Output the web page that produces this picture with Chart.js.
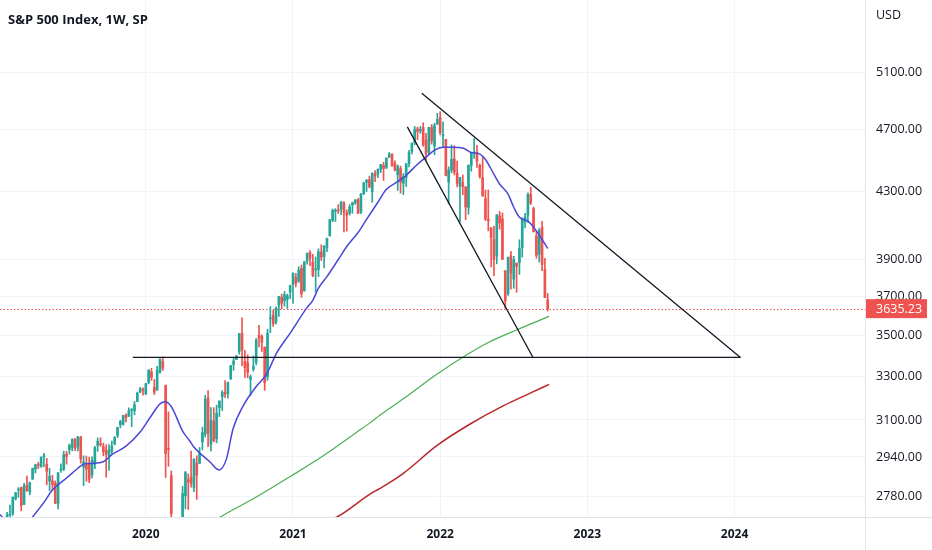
<!DOCTYPE html>
<html><head><meta charset="utf-8">
<script src="https://cdn.jsdelivr.net/npm/chart.js@4.4.0/dist/chart.umd.min.js"></script>
<style>html,body{margin:0;padding:0;background:#fff;}canvas{display:block;}</style>
</head><body>
<canvas id="c" width="932" height="550"></canvas>
<script>
// week index of the first candle (0 = first weekly bar of 2020)
const firstWeek = -52;
const opens = [
2535,2580,2657,2644,2706,2712,2770,2804,2814,2747,2823,2797,2848,2889,2908,2898,2941,2909,2840,2841,2831,2751,2886,2889,2952,2971,2980,3017,2982,3024,2898,2907,2913,2866,2909,2989,2996,2983,2968,2944,2965,2996,3032,3079,3081,3123,3117,3143,3141,3183,3226,3240,
3218,3271,3321,3248,3235,3319,3370,3257,2974,2863,2509,2291,2514,2579,2782,2846,2855,2815,2915,2913,3004,3038,3199,2993,3095,3018,3155,3205,3225,3219,3289,3356,3380,3419,3509,3371,3364,3285,3334,3367,3500,3494,3441,3297,3583,3600,3566,3653,3695,3676,3684,3723,
3764,3803,3782,3851,3731,3892,3939,3886,3842,3845,3943,3916,3969,4034,4125,4179,4185,4192,4228,4170,4168,4216,4230,4249,4174,4285,4356,4372,4297,4409,4407,4437,4462,4450,4514,4536,4474,4403,4442,4349,4385,4473,4553,4610,4702,4689,4712,4628,4548,4711,4588,4733,
4779,4655,4632,4357,4431,4505,4413,4332,4354,4327,4202,4462,4541,4547,4463,4385,4255,4130,4081,4013,3920,4151,4134,3838,3715,3920,3792,3880,3883,3965,4113,4155,4282,4195,4034,3930,4084,3845,3682];
const highs = [
2597,2675,2681,2716,2744,2776,2795,2814,2816,2831,2861,2836,2893,2910,2918,2940,2955,2934,2892,2864,2841,2876,2911,2964,2964,2995,3018,3018,3028,3029,2945,2944,2939,2941,2985,3021,3022,2999,2992,2993,3008,3027,3067,3098,3121,3127,3154,3151,3183,3226,3248,3246,
3267,3330,3338,3285,3347,3385,3393,3259,3136,2882,2562,2637,2641,2819,2880,2869,2965,2933,2945,2980,3068,3211,3233,3155,3155,3166,3186,3233,3280,3273,3352,3387,3400,3509,3588,3425,3402,3306,3397,3483,3550,3502,3441,3530,3646,3628,3645,3699,3712,3726,3712,3760,
3827,3823,3860,3870,3889,3937,3950,3929,3914,3960,3983,3978,4021,4129,4192,4195,4219,4238,4237,4187,4219,4234,4250,4257,4287,4356,4372,4394,4416,4430,4441,4468,4482,4511,4546,4536,4492,4466,4458,4411,4475,4560,4608,4718,4714,4718,4743,4672,4713,4731,4740,4808,
4819,4749,4632,4453,4595,4590,4490,4386,4402,4328,4466,4546,4637,4593,4471,4513,4308,4308,4082,4091,4159,4178,4169,3838,3913,3946,3918,3880,4012,4140,4167,4290,4325,4204,4062,4077,4119,3906,3715];
const lows = [
2524,2570,2613,2631,2681,2704,2764,2775,2722,2746,2800,2785,2848,2873,2891,2898,2900,2825,2801,2805,2750,2729,2876,2883,2910,2952,2966,2967,2966,2914,2822,2840,2834,2853,2891,2964,2985,2945,2856,2884,2953,2991,3023,3065,3077,3091,3115,3070,3123,3183,3223,3212,
3214,3264,3281,3214,3235,3315,3328,2855,2901,2478,2280,2191,2447,2574,2730,2727,2816,2798,2767,2913,2970,3025,2984,2966,3004,3000,3115,3142,3200,3198,3284,3328,3380,3406,3350,3294,3293,3210,3324,3354,3441,3420,3234,3280,3512,3544,3556,3595,3634,3648,3636,3688,
3663,3750,3774,3694,3726,3874,3866,3805,3723,3806,3894,3853,3944,4034,4117,4118,4165,4158,4057,4062,4156,4167,4220,4164,4164,4279,4299,4321,4233,4360,4384,4417,4367,4441,4514,4457,4427,4306,4289,4279,4329,4453,4537,4596,4630,4672,4586,4495,4532,4600,4531,4733,
4662,4582,4395,4223,4415,4402,4327,4115,4279,4129,4161,4425,4507,4450,4381,4268,4124,4063,3859,3811,3876,4073,3900,3637,3705,3738,3743,3721,3818,3913,4080,4112,4219,4057,3907,3886,3838,3694,3623];
const closes = [
2596,2671,2665,2707,2708,2776,2793,2804,2743,2822,2801,2834,2893,2907,2905,2940,2946,2881,2860,2826,2752,2873,2887,2950,2942,2990,3014,2977,3026,2932,2919,2889,2847,2926,2979,3007,2992,2962,2952,2970,2986,3023,3067,3093,3120,3110,3141,3146,3169,3221,3240,3235,
3265,3330,3295,3226,3328,3380,3338,2954,2972,2711,2305,2541,2489,2790,2875,2837,2831,2930,2864,2955,3044,3194,3041,3098,3009,3130,3185,3225,3216,3271,3351,3373,3397,3508,3427,3341,3319,3298,3348,3477,3484,3465,3270,3509,3585,3558,3638,3699,3663,3709,3703,3756,
3825,3768,3841,3714,3887,3935,3907,3811,3842,3943,3913,3975,4020,4129,4185,4180,4181,4233,4174,4156,4204,4230,4247,4166,4281,4352,4370,4327,4412,4395,4437,4468,4442,4509,4535,4459,4433,4455,4357,4391,4471,4545,4605,4698,4683,4698,4595,4538,4712,4621,4726,4766,
4677,4663,4398,4432,4501,4419,4349,4385,4329,4204,4463,4543,4546,4488,4393,4272,4132,4123,4024,3901,4158,4109,3901,3675,3912,3825,3899,3863,3962,4130,4145,4280,4228,4058,3924,4067,3873,3693,3635.23];

// moving averages (week index, value)
const blueWeeks  = [-52,-50,-47,-44,-41,-39,-36,-33,-28,-24,-22,-19,-15,-12,-7,-2,2,5,7,9,10,13,15.5,17,22.6,25.9,28.5,30.8,34.4,39,42.6,46.2,51,56.8,59,61,64,68,71,75,78,82,85,89,92,96,99,102,105,108,112,115,118,120,123,125,128,130,132,135,137,140,142];
const blueValues = [2712,2690,2662,2660,2685,2712,2755,2804,2853,2893,2910,2913,2920,2950,2986,3047,3120,3172,3182,3160,3136,3051,3009,2982,2920,2886,2932,3060,3163,3252,3309,3411,3510,3638,3679,3743,3806,3900,3973,4054,4131,4233,4312,4360,4400,4470,4515,4561,4580,4580,4575,4545,4535,4500,4406,4345,4282,4203,4143,4120,4085,4014,3962];
const greenWeeks  = [20,26.8,39.2,50.9,62.7,74.5,79.2,82.8,91,102.8,113.4,120.5,131.1,142.5];
const greenValues = [2655,2701,2777,2858,2945,3046,3087,3122,3195,3309,3403,3460,3527,3595];
const redWeeks  = [60,68,79.2,82.8,91,102.8,114.6,126.4,135.8,142.5];
const redValues = [2665,2701,2788,2811,2872,2988,3082,3164,3221,3262];

// drawn trend lines (week index, price)
const upperLineWeeks = [97.5,210.1], upperLineValues = [4947,3390];
const steepLineWeeks = [92.4,136.8], steepLineValues = [4715,3390];
const supportWeeks = [-4.6,210.1], supportValues = [3390,3390];

const yearWeeks = [0,52,104,156,208];
const yearLabels = ['2020','2021','2022','2023','2024'];
const priceTicks = [2780,2940,3100,3300,3500,3700,3900,4300,4700,5100];
const lastPrice = 3635.23;
const title = 'S&P 500 Index, 1W, SP';
const currency = 'USD';

const UP = '#26a69a', DOWN = '#ef5350';
const candleColors = opens.map((o,k)=> closes[k] >= o ? UP : DOWN);
const pts = (ws, vs) => ws.map((w,k)=>({x:w, y:vs[k]}));

const overlay = {
  id:'overlay',
  beforeDatasetsDraw(chart){
    const {ctx, chartArea:a, scales:{y}} = chart;
    const py = Math.round(y.getPixelForValue(lastPrice)) + 0.5;
    ctx.save();
    ctx.strokeStyle = DOWN; ctx.lineWidth = 1; ctx.setLineDash([1.5,2]);
    ctx.beginPath(); ctx.moveTo(a.left, py); ctx.lineTo(a.right, py); ctx.stroke();
    ctx.restore();
  },
  afterDraw(chart){
    const {ctx, chartArea:a, scales:{y}} = chart;
    ctx.save();
    ctx.strokeStyle = '#e0e3eb'; ctx.lineWidth = 1;
    ctx.beginPath();
    ctx.moveTo(Math.round(a.right)+0.5, 0); ctx.lineTo(Math.round(a.right)+0.5, 550);
    ctx.moveTo(0, Math.round(a.bottom)+0.5); ctx.lineTo(932, Math.round(a.bottom)+0.5);
    ctx.stroke();
    ctx.font = '12.5px "Open Sans"'; ctx.fillStyle = '#131722';
    ctx.textBaseline = 'middle'; ctx.textAlign = 'left';
    const lx = a.right + 11;
    priceTicks.forEach(v => ctx.fillText(v.toFixed(2), lx, y.getPixelForValue(v)));
    ctx.fillText(currency, lx, 15);
    const py = y.getPixelForValue(lastPrice);
    ctx.fillStyle = DOWN;
    ctx.fillRect(a.right + 1, py - 9.5, 61, 19);
    ctx.fillStyle = '#ffffff';
    ctx.fillText(lastPrice.toFixed(2), lx, py + 0.5);
    ctx.font = 'bold 13px "Open Sans"'; ctx.fillStyle = '#131722';
    ctx.fillText(title, 8, 20);
    ctx.restore();
  }
};

new Chart(document.getElementById('c'), {
  type:'bar',
  data:{ datasets:[
    {type:'line', data:pts(upperLineWeeks, upperLineValues), borderColor:'#131722', borderWidth:1.3, pointRadius:0, order:0, clip:0},
    {type:'line', data:pts(steepLineWeeks, steepLineValues), borderColor:'#131722', borderWidth:1.3, pointRadius:0, order:0, clip:0},
    {type:'line', data:pts(supportWeeks, supportValues), borderColor:'#131722', borderWidth:1.3, pointRadius:0, order:0, clip:0},
    {type:'line', data:pts(blueWeeks, blueValues), borderColor:'#4a46d8', borderWidth:1.5, pointRadius:0, cubicInterpolationMode:'monotone', order:1, clip:0},
    {type:'line', data:pts(greenWeeks, greenValues), borderColor:'#4caf50', borderWidth:1.2, pointRadius:0, cubicInterpolationMode:'monotone', order:1, clip:0},
    {type:'line', data:pts(redWeeks, redValues), borderColor:'#b8262d', borderWidth:1.5, pointRadius:0, cubicInterpolationMode:'monotone', order:1, clip:0},
    {data:opens.map((o,k)=>({x:firstWeek+k, y:[o, closes[k]]})), backgroundColor:candleColors, barThickness:2, minBarLength:1, grouped:false, order:2, clip:0},
    {data:opens.map((o,k)=>({x:firstWeek+k, y:[lows[k], highs[k]]})), backgroundColor:candleColors, barThickness:1, grouped:false, order:3, clip:0}
  ]},
  options:{
    responsive:false, animation:false, events:[],
    layout:{padding:0},
    plugins:{legend:{display:false}, tooltip:{enabled:false}, title:{display:false}},
    scales:{
      x:{type:'linear', position:'bottom', min:-51.52, max:254.1, offset:false,
         grid:{color:'#f0f3fa', drawTicks:false, offset:false}, border:{display:false},
         afterBuildTicks(s){ s.ticks = yearWeeks.map(v=>({value:v})); },
         afterFit(s){ s.height = 33; },
         ticks:{autoSkip:false, maxRotation:0, padding:10, color:'#131722',
                font:{family:'"Open Sans"', size:12, weight:'bold'},
                callback(v){ const k = yearWeeks.indexOf(v); return k >= 0 ? yearLabels[k] : ''; }}},
      y:{type:'logarithmic', position:'right', min:2698, max:5654,
         grid:{color:'#f0f3fa', drawTicks:false}, border:{display:false},
         afterBuildTicks(s){ s.ticks = priceTicks.map(v=>({value:v})); },
         afterFit(s){ s.width = 67; },
         ticks:{display:false}}
    }
  },
  plugins:[overlay]
});
</script>
</body></html>
